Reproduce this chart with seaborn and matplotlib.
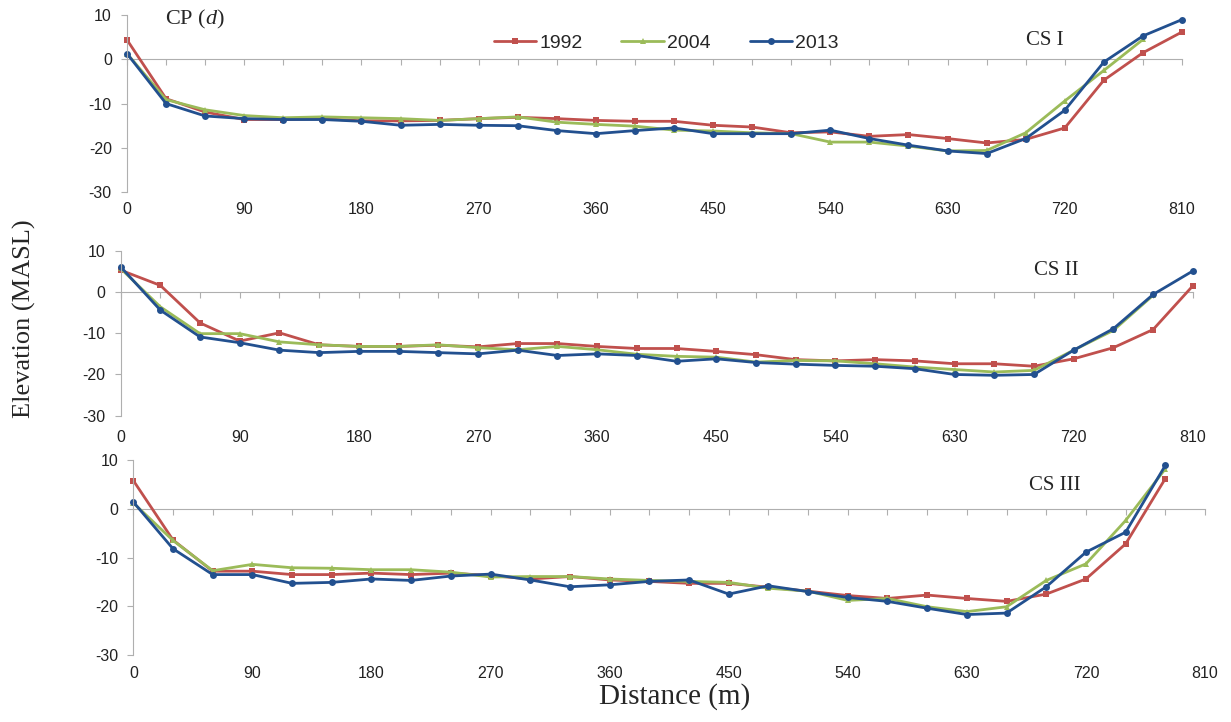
import pandas as pd
import seaborn as sns
import matplotlib.pyplot as plt
import numpy as np

sns.set_style("white")
plt.rcParams['font.family'] = ['Liberation Sans', 'DejaVu Sans']
plt.rcParams['axes.unicode_minus'] = False
plt.rcParams['mathtext.fontset'] = 'custom'
plt.rcParams['mathtext.rm'] = 'Liberation Serif'
plt.rcParams['mathtext.it'] = 'Liberation Serif:italic'

# --- data ---
distance = list(range(0, 811, 30))
years = ['1992', '2004', '2013']

cs1_1992 = [4.4, -8.9, -11.9, -13.6, -13.6, -13.4, -13.9, -13.9, -13.8, -13.4, -13.1, -13.4, -13.8, -14.0,
            -14.0, -14.9, -15.3, -16.6, -16.4, -17.4, -17.0, -17.9, -18.9, -18.1, -15.5, -4.7, 1.5, 6.2]
cs1_2004 = [1.3, -9.1, -11.4, -12.7, -13.2, -13.0, -13.2, -13.4, -13.8, -13.4, -13.0, -14.2, -14.7, -15.1,
            -16.0, -16.2, -16.6, -16.8, -18.7, -18.7, -19.6, -20.7, -20.6, -16.6, -9.4, -2.5, 4.5, np.nan]
cs1_2013 = [1.3, -10.0, -12.8, -13.4, -13.6, -13.6, -14.0, -14.9, -14.7, -14.9, -15.0, -16.1, -16.8, -16.1,
            -15.5, -16.8, -16.8, -16.8, -16.0, -17.9, -19.4, -20.7, -21.3, -17.9, -11.5, -0.6, 5.3, 9.0]

cs2_1992 = [5.3, 1.6, -7.5, -11.9, -9.9, -12.8, -13.2, -13.2, -12.9, -13.3, -12.5, -12.5, -13.2, -13.7,
            -13.7, -14.4, -15.2, -16.4, -16.7, -16.4, -16.7, -17.4, -17.4, -18.0, -16.2, -13.5, -9.1, 1.5]
cs2_2004 = [5.7, -3.6, -10.1, -10.1, -12.1, -12.8, -13.2, -13.2, -12.8, -13.5, -14.0, -13.2, -14.0, -15.1,
            -15.6, -15.8, -17.0, -16.6, -16.7, -17.4, -18.2, -18.8, -19.4, -19.0, -14.1, -9.3, -0.8, np.nan]
cs2_2013 = [6.1, -4.4, -10.9, -12.3, -14.1, -14.7, -14.4, -14.4, -14.7, -15.0, -14.1, -15.4, -15.0, -15.4,
            -16.8, -16.2, -17.1, -17.5, -17.8, -18.0, -18.6, -20.0, -20.2, -20.0, -14.1, -8.9, -0.6, 5.1]

cs3_1992 = [5.8, -6.4, -12.8, -12.8, -13.5, -13.5, -13.2, -13.5, -13.2, -13.7, -14.4, -13.9, -14.6, -14.9,
            -15.3, -15.3, -16.1, -16.9, -17.8, -18.4, -17.7, -18.4, -19.0, -17.5, -14.4, -7.2, 6.2, np.nan]
cs3_2004 = [1.2, -6.5, -12.7, -11.4, -12.1, -12.2, -12.5, -12.5, -13.0, -14.0, -13.9, -13.9, -14.4, -14.7,
            -14.9, -15.1, -16.3, -16.9, -18.8, -18.4, -20.1, -21.1, -20.1, -14.7, -11.3, -2.4, 8.2, np.nan]
cs3_2013 = [1.4, -8.2, -13.5, -13.5, -15.3, -15.1, -14.4, -14.7, -13.8, -13.4, -14.6, -16.0, -15.6, -14.9,
            -14.6, -17.5, -15.8, -17.0, -18.2, -19.0, -20.4, -21.7, -21.4, -16.0, -8.9, -4.8, 8.9, np.nan]

x_labels = list(range(0, 811, 90))
y_ticks = [-30, -20, -10, 0, 10]

palette = {'1992': '#C0504D', '2004': '#9BBB59', '2013': '#22508F'}
markers = {'1992': 's', '2004': '^', '2013': 'o'}
axis_gray = '#AFAFAF'


def draw_panel(ax, series, title, title_pos, xpad, show_legend=False):
    df = pd.DataFrame({
        'Distance': distance * 3,
        'Elevation': series[0] + series[1] + series[2],
        'Year': np.repeat(years, len(distance)),
    })
    sns.lineplot(data=df, x='Distance', y='Elevation', hue='Year', style='Year',
                 palette=palette, markers=markers, dashes=False, estimator=None,
                 linewidth=2, markersize=5, markeredgewidth=0, clip_on=False,
                 legend=show_legend, ax=ax)
    ax.set_xlim(0, 810)
    ax.set_ylim(-30, 10)
    ax.set_xticks(x_labels)
    ax.set_yticks(y_ticks)
    ax.tick_params(axis='x', length=0, pad=xpad, labelsize=11.5, labelcolor='#222222')
    ax.tick_params(axis='y', direction='out', length=4, width=0.8, color=axis_gray,
                   pad=7, labelsize=11.5, labelcolor='#222222', left=True)
    for s in ['top', 'right', 'bottom']:
        ax.spines[s].set_visible(False)
    ax.spines['left'].set_color(axis_gray)
    ax.set_xlabel('')
    ax.set_ylabel('')

    # horizontal axis line at elevation 0 with a tick every 30 m
    sec = ax.secondary_xaxis(0, transform=ax.transData)
    sec.xaxis.set_ticks_position('bottom')
    sec.set_xticks(distance)
    sec.tick_params(axis='x', direction='out', length=4, width=0.8, color=axis_gray,
                    labelbottom=False, labeltop=False)
    for s in sec.spines:
        sec.spines[s].set_visible(False)
    sec.spines['bottom'].set_visible(True)
    sec.spines['bottom'].set_color(axis_gray)

    ax.text(title_pos[0], title_pos[1], title, transform=ax.transAxes,
            family='Liberation Serif', fontsize=15, ha='center', va='center')

    if show_legend:
        h, l = ax.get_legend_handles_labels()
        ax.legend(h, l, ncol=3, frameon=False, loc='center', bbox_to_anchor=(0.511, 0.842),
                  fontsize=14, handlelength=2.2, handletextpad=0.15, columnspacing=2.0)


fig = plt.figure(figsize=(12.31, 7.22), dpi=100)
ax1 = fig.add_axes([0.1032, 0.734, 0.857, 0.245])
ax2 = fig.add_axes([0.098, 0.4242, 0.871, 0.2285])
ax3 = fig.add_axes([0.1083, 0.0928, 0.8706, 0.270])

draw_panel(ax1, [cs1_1992, cs1_2004, cs1_2013], 'CS I', (0.870, 0.859), 7, show_legend=True)
draw_panel(ax2, [cs2_1992, cs2_2004, cs2_2013], 'CS II', (0.873, 0.883), 10)
draw_panel(ax3, [cs3_1992, cs3_2004, cs3_2013], 'CS III', (0.860, 0.872), 8)

ax1.text(0.036, 0.975, r'CP ($\it{d}$)', transform=ax1.transAxes,
         family='Liberation Serif', fontsize=16, ha='left', va='center')

fig.text(0.020, 0.558, 'Elevation (MASL)', rotation=90, family='Liberation Serif',
         fontsize=19, ha='center', va='center')
fig.text(0.548, 0.016, 'Distance (m)', family='Liberation Serif',
         fontsize=21, ha='center', va='bottom')

fig.savefig('out.png', dpi=100)
plt.close(fig)
